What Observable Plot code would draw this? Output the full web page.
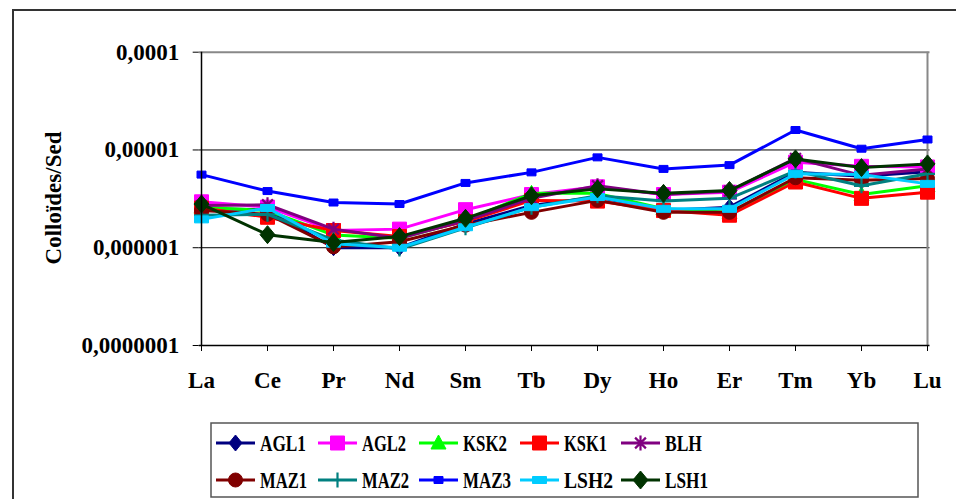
<!DOCTYPE html>
<html><head><meta charset="utf-8">
<script src="https://cdn.jsdelivr.net/npm/d3@7"></script>
<script src="https://cdn.jsdelivr.net/npm/@observablehq/plot@0.6"></script>
<style>
html,body{margin:0;padding:0;background:#fff;width:956px;height:499px;overflow:hidden;position:relative;}
#frame{position:absolute;left:12px;top:9px;width:960px;height:510px;border:2px solid #333;box-sizing:border-box;}
#chart{position:absolute;left:0;top:0;}
#legend{position:absolute;left:0;top:400px;}
svg text{font-family:"Liberation Serif","Times New Roman",serif;font-weight:bold;}
</style></head><body>
<div id="frame"></div>
<div id="chart"></div>
<div id="legend"></div>
<script>
// ---- data ----
const elements = ["La","Ce","Pr","Nd","Sm","Tb","Dy","Ho","Er","Tm","Yb","Lu"];
const yTicks = [1e-7, 1e-6, 1e-5, 1e-4];
const yTickLabels = ["0,0000001","0,000001","0,00001","0,0001"];
const yTitle = "Colloïdes/Sed";
const seriesNames = ["AGL1","AGL2","KSK2","KSK1","BLH","MAZ1","MAZ2","MAZ3","LSH2","LSH1"];
const AGL1 = [2.5e-6,2.45e-6,1.0e-6,1.0e-6,1.75e-6,2.7e-6,3.3e-6,2.4e-6,2.6e-6,5.9e-6,5.4e-6,6.0e-6];
const AGL2 = [2.95e-6,2.6e-6,1.5e-6,1.55e-6,2.45e-6,3.5e-6,4.2e-6,3.5e-6,3.7e-6,7.5e-6,6.8e-6,6.7e-6];
const KSK2 = [2.6e-6,2.4e-6,1.35e-6,1.25e-6,1.9e-6,3.6e-6,3.6e-6,2.5e-6,2.3e-6,5.0e-6,3.5e-6,4.3e-6];
const KSK1 = [2.55e-6,2.05e-6,1.5e-6,1.3e-6,1.85e-6,3.05e-6,3.0e-6,2.4e-6,2.15e-6,4.7e-6,3.2e-6,3.7e-6];
const BLH  = [2.7e-6,2.75e-6,1.55e-6,1.25e-6,1.9e-6,3.2e-6,4.3e-6,3.5e-6,3.8e-6,8.2e-6,5.5e-6,6.4e-6];
const MAZ1 = [2.4e-6,2.2e-6,1.02e-6,1.15e-6,1.7e-6,2.3e-6,3.05e-6,2.3e-6,2.3e-6,5.2e-6,4.9e-6,5.1e-6];
const MAZ2 = [2.15e-6,2.2e-6,1.2e-6,0.97e-6,1.6e-6,2.6e-6,3.4e-6,3.0e-6,3.2e-6,6.1e-6,4.3e-6,5.7e-6];
const MAZ3 = [5.6e-6,3.8e-6,2.9e-6,2.8e-6,4.6e-6,5.9e-6,8.4e-6,6.4e-6,7.0e-6,1.6e-5,1.03e-5,1.28e-5];
const LSH2 = [1.95e-6,2.55e-6,1.1e-6,1.0e-6,1.62e-6,2.6e-6,3.3e-6,2.5e-6,2.5e-6,5.7e-6,5.6e-6,4.5e-6];
const LSH1 = [2.8e-6,1.36e-6,1.13e-6,1.3e-6,2.0e-6,3.4e-6,4.0e-6,3.6e-6,3.85e-6,8.1e-6,6.6e-6,7.2e-6];
const seriesValues = [AGL1,AGL2,KSK2,KSK1,BLH,MAZ1,MAZ2,MAZ3,LSH2,LSH1];

// ---- styles ----
const sym = {
  diamond:(w,h)=>({draw(c){c.moveTo(0,-h);c.lineTo(w,0);c.lineTo(0,h);c.lineTo(-w,0);c.closePath();}}),
  rect:(w,h)=>({draw(c){c.rect(-w,-h,2*w,2*h);}}),
  triangle:(w,h)=>({draw(c){c.moveTo(0,-h);c.lineTo(w,h*0.75);c.lineTo(-w,h*0.75);c.closePath();}}),
  circle:(r)=>({draw(c){c.moveTo(r,0);c.arc(0,0,r,0,2*Math.PI);}}),
  plus:(r)=>({draw(c){c.moveTo(-r,0);c.lineTo(r,0);c.moveTo(0,-r);c.lineTo(0,r);}}),
  star:(r)=>({draw(c){const d=r*0.72;c.moveTo(0,-r);c.lineTo(0,r);c.moveTo(-d,-d);c.lineTo(d,d);c.moveTo(-d,d);c.lineTo(d,-d);}})
};
const styles = [
  {color:"#000080", symbol:sym.diamond(6.5,8), filled:true},
  {color:"#FF00FF", symbol:sym.rect(7,7), filled:true},
  {color:"#00FF00", symbol:sym.triangle(7.5,8), filled:true},
  {color:"#FF0000", symbol:sym.rect(7,7), filled:true},
  {color:"#800080", symbol:sym.star(7.5), filled:false},
  {color:"#800000", symbol:sym.circle(7), filled:true},
  {color:"#008080", symbol:sym.plus(7.5), filled:false},
  {color:"#0000FF", symbol:sym.rect(4.5,3.5), filled:true},
  {color:"#00CCFF", symbol:sym.rect(7,3.5), filled:true},
  {color:"#003300", symbol:sym.diamond(7.5,9), filled:true}
];

// ---- chart ----
const W = 956, H = 400;
const marks = [
  Plot.ruleY([1e-5, 1e-6], {stroke:"#000", strokeWidth:1}),
  Plot.ruleY([1e-4], {stroke:"#888", strokeWidth:2}),
  Plot.ruleX([elements[elements.length-1]], {stroke:"#888", strokeWidth:2})
];
seriesNames.forEach((name, k) => {
  const rows = elements.map((el, i) => ({el, v: seriesValues[k][i]}));
  const st = styles[k];
  marks.push(Plot.line(rows, {x:"el", y:"v", stroke:st.color, strokeWidth:3}));
  marks.push(Plot.dot(rows, {x:"el", y:"v", symbol:st.symbol, r:5,
    fill: st.filled ? st.color : "none", stroke: st.color, strokeWidth: st.filled ? 1 : 2.2}));
});
marks.push(Plot.ruleX([elements[0]], {stroke:"#000", strokeWidth:1.5}));
marks.push(Plot.ruleY([1e-7], {stroke:"#000", strokeWidth:1.5}));
marks.push(Plot.axisY(yTicks, {tickFormat: d => yTickLabels[yTicks.indexOf(d)], tickSize:6, tickPadding:14,
  fontSize:23, label:null, stroke:"#000"}));
marks.push(Plot.axisX({tickSize:6, tickPadding:20, fontSize:23, label:null}));

const chart = Plot.plot({
  width: W, height: H,
  marginLeft: 198.7, marginRight: W-929.5, marginTop: 51.7, marginBottom: H-345,
  x: {type:"point", domain: elements, padding: 0},
  y: {type:"log", domain:[1e-7, 1e-4]},
  style: {fontFamily:"Liberation Serif", fontWeight:"bold", color:"#000", background:"transparent", overflow:"visible"},
  marks
});
document.getElementById("chart").appendChild(chart);
d3.select(chart).append("text")
  .attr("transform", "translate(61,198) rotate(-90)")
  .attr("text-anchor", "middle")
  .attr("font-size", 23)
  .attr("fill", "#000")
  .text(yTitle);

// ---- legend ----
const lg = d3.select("#legend").append("svg").attr("width", W).attr("height", 99);
lg.append("rect").attr("x", 211).attr("y", 23).attr("width", 707).attr("height", 74)
  .attr("fill", "none").attr("stroke", "#555").attr("stroke-width", 1.5);
const colX = [216, 318, 419, 520, 621];
const rowY = [43, 80];
const textW = [46, 44, 44, 43, 37, 47, 47, 48, 49, 43];
seriesNames.forEach((name, k) => {
  const st = styles[k];
  const x0 = colX[k % 5], y0 = rowY[Math.floor(k / 5)];
  lg.append("line").attr("x1", x0).attr("x2", x0 + 39).attr("y1", y0).attr("y2", y0)
    .attr("stroke", st.color).attr("stroke-width", 3);
  lg.append("path").attr("d", d3.symbol().type(st.symbol)())
    .attr("transform", `translate(${x0 + 19.5},${y0})`)
    .attr("fill", st.filled ? st.color : "none").attr("stroke", st.color)
    .attr("stroke-width", st.filled ? 1 : 2.2);
  lg.append("text").attr("x", x0 + 44).attr("y", y0 + 8)
    .attr("font-size", 24).attr("fill", "#000")
    .attr("textLength", textW[k]).attr("lengthAdjust", "spacingAndGlyphs")
    .text(name);
});
</script>
</body></html>
